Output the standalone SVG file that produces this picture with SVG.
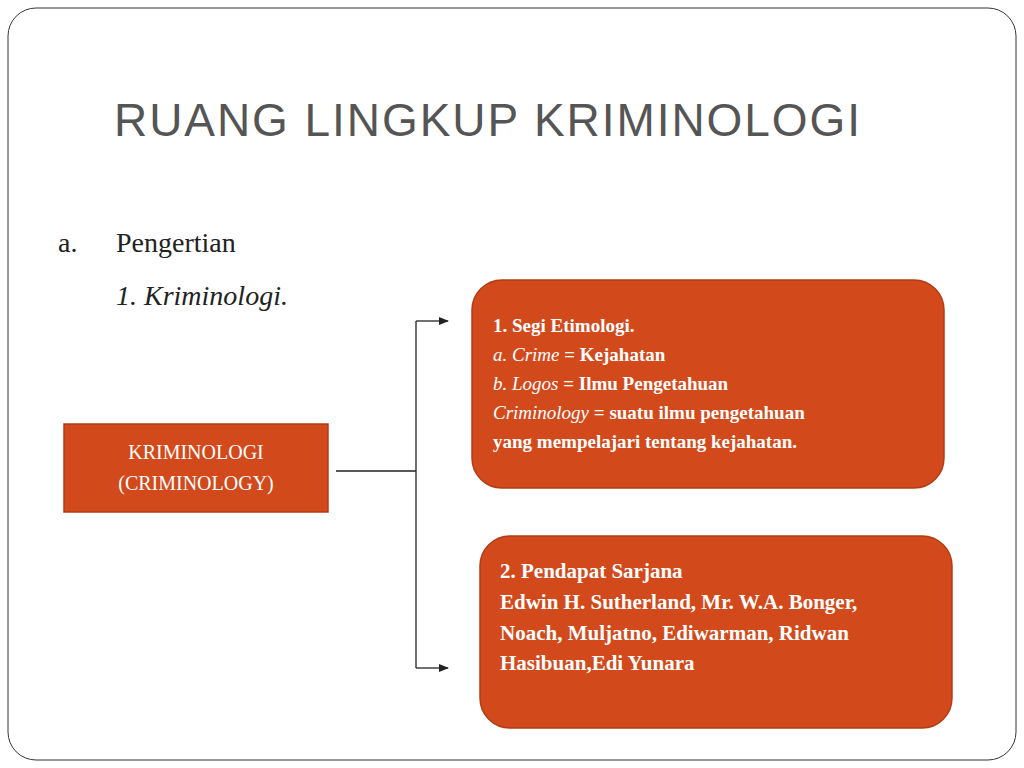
<svg xmlns="http://www.w3.org/2000/svg" width="1024" height="768" viewBox="0 0 1024 768">
<style>
.s{font-family:"Liberation Serif",serif;fill:#fff}
.b{font-weight:bold}
.box{fill:#d24a1c;stroke:#b33c14;stroke-width:1.5}
.c{stroke:#222;stroke-width:1.3;fill:none}
</style>
<defs><marker id="a" markerWidth="10" markerHeight="8" refX="9" refY="4" orient="auto" markerUnits="userSpaceOnUse"><path d="M0,0 L10,4 L0,8 z" fill="#222"/></marker></defs>
<rect width="1024" height="768" fill="#fff"/>
<rect x="8" y="8" width="1008" height="752" rx="28" fill="#fff" stroke="#333" stroke-width="1"/>
<text x="114" y="136" font-family="Liberation Sans Narrow,Liberation Sans,sans-serif" font-size="46" fill="#555" textLength="746">RUANG LINGKUP KRIMINOLOGI</text>
<text x="58" y="252" font-family="Liberation Serif,serif" font-size="28" fill="#222">a.</text>
<text x="116" y="252" font-family="Liberation Serif,serif" font-size="28" fill="#222">Pengertian</text>
<text x="116" y="305" font-family="Liberation Serif,serif" font-size="28" font-style="italic" fill="#222">1. Kriminologi.</text>
<g id="connectors">
<path class="c" d="M336,471 H416 M416,321 V668"/>
<path class="c" d="M416,321 H448" marker-end="url(#a)"/>
<path class="c" d="M416,668 H448" marker-end="url(#a)"/>
</g>
<g id="n0">
<rect class="box" x="64" y="424" width="264" height="88"/>
<text class="s" x="196" y="459" font-size="20" text-anchor="middle">KRIMINOLOGI</text>
<text class="s" x="196" y="490" font-size="20" text-anchor="middle">(CRIMINOLOGY)</text>
</g>
<g id="n1">
<rect class="box" x="472" y="280" width="472" height="208" rx="30"/>
<text class="s b" x="493" y="332" font-size="19">1.  Segi Etimologi.</text>
<text class="s" x="493" y="361" font-size="19"><tspan font-style="italic">a. Crime</tspan><tspan class="b"> =  Kejahatan</tspan></text>
<text class="s" x="493" y="390" font-size="19"><tspan font-style="italic">b. Logos</tspan><tspan class="b"> = Ilmu Pengetahuan</tspan></text>
<text class="s" x="493" y="419" font-size="19"><tspan font-style="italic">Criminology</tspan><tspan class="b"> = suatu ilmu pengetahuan</tspan></text>
<text class="s b" x="493" y="448" font-size="19">yang mempelajari tentang kejahatan.</text>
</g>
<g id="n2">
<rect class="box" x="480" y="536" width="472" height="192" rx="30"/>
<text class="s b" x="500" y="578" font-size="21">2.  Pendapat Sarjana</text>
<text class="s b" x="500" y="609" font-size="21">Edwin H. Sutherland, Mr. W.A. Bonger,</text>
<text class="s b" x="500" y="640" font-size="21">Noach, Muljatno, Ediwarman, Ridwan</text>
<text class="s b" x="500" y="670" font-size="21">Hasibuan,Edi Yunara</text>
</g>
</svg>
